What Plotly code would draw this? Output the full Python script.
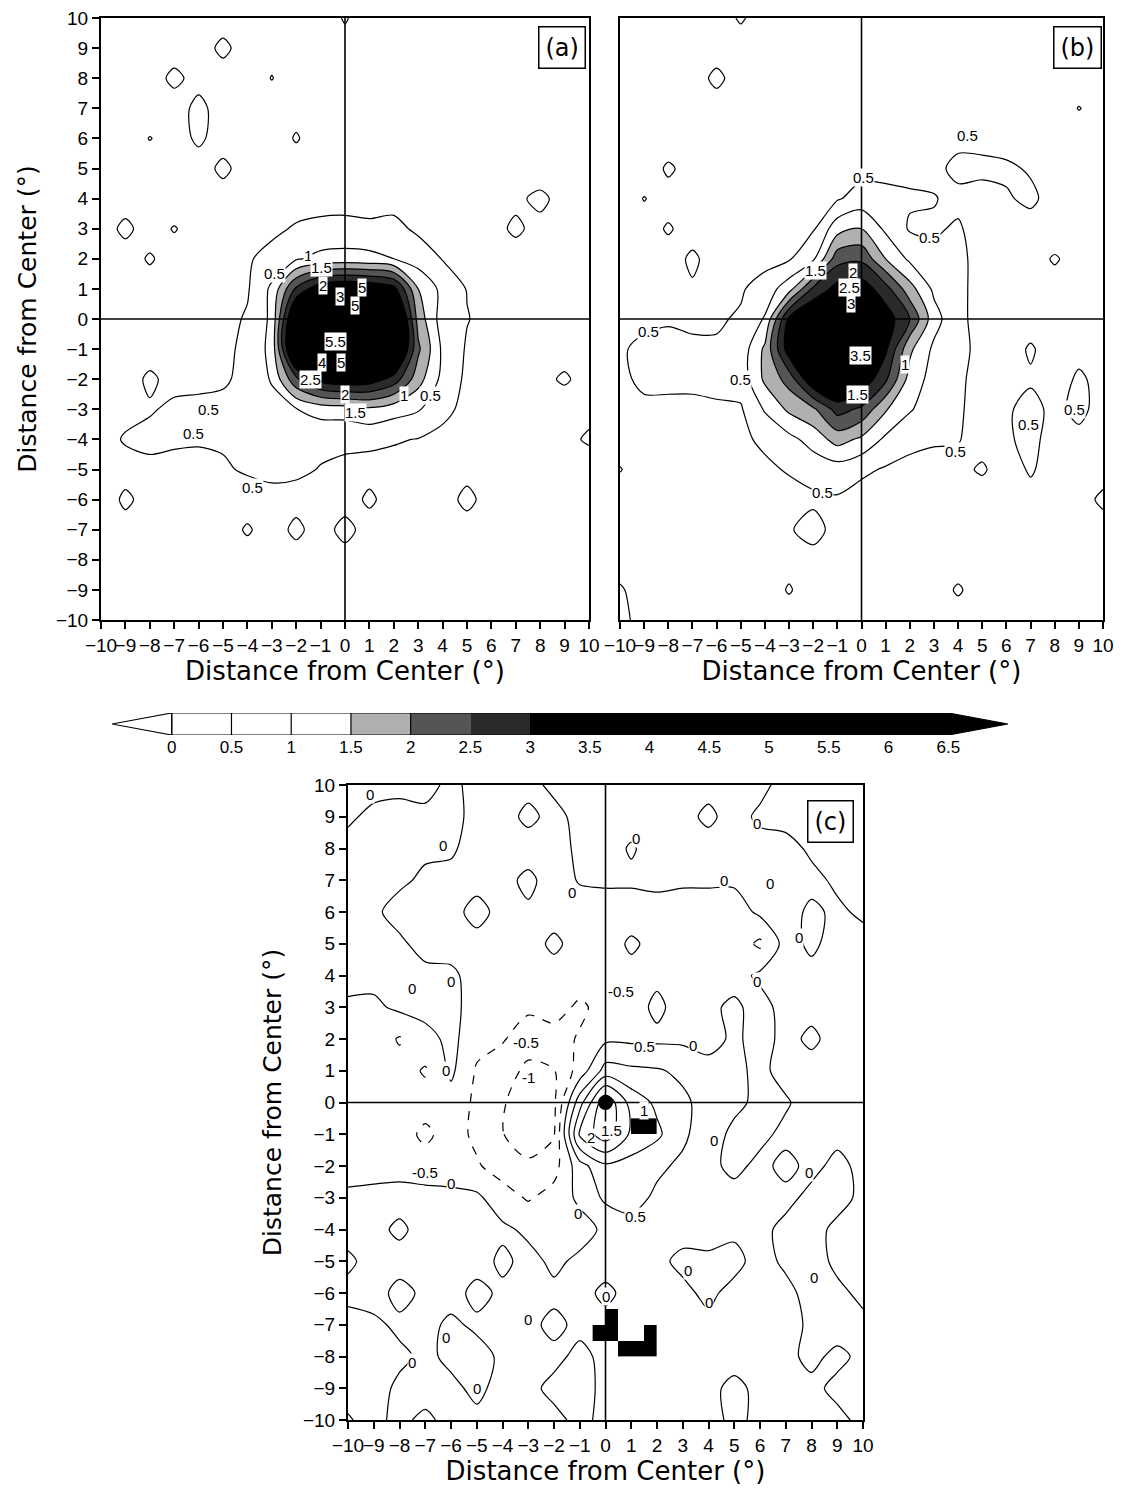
import plotly.graph_objects as go

W, H = 1125, 1490

# 1-degree grid; rows below are listed from north (y=10) to south (y=-10)
GRID_X = list(range(-10, 11))
GRID_Y = list(range(10, -11, -1))

A_ROWS = [
    [0.2, 0.1, 0.2, 0.3, 0.2, 0.3, 0.2, 0.2, 0.1, 0.2, 0.55, 0.2, 0.1, 0.2, 0.2, 0.1, 0.2, 0.2, 0.1, 0.2, 0.2],
    [0.1, 0.2, 0.2, 0.3, 0.3, 0.6, 0.3, 0.3, 0.2, 0.2, 0.3, 0.2, 0.2, 0.1, 0.2, 0.2, 0.1, 0.2, 0.2, 0.1, 0.2],
    [0.2, 0.2, 0.3, 0.6, 0.35, 0.3, 0.2, 0.52, 0.2, 0.1, 0.2, 0.2, 0.1, 0.2, 0.2, 0.1, 0.2, 0.2, 0.2, 0.1, 0.1],
    [0.2, 0.2, 0.2, 0.3, 0.62, 0.3, 0.2, 0.2, 0.3, 0.2, 0.2, 0.1, 0.2, 0.2, 0.1, 0.2, 0.2, 0.1, 0.2, 0.2, 0.1],
    [0.1, 0.2, 0.52, 0.3, 0.58, 0.3, 0.2, 0.2, 0.55, 0.2, 0.2, 0.2, 0.1, 0.2, 0.2, 0.1, 0.2, 0.2, 0.1, 0.2, 0.2],
    [0.2, 0.2, 0.2, 0.3, 0.3, 0.6, 0.3, 0.2, 0.2, 0.3, 0.3, 0.2, 0.2, 0.2, 0.3, 0.2, 0.2, 0.3, 0.2, 0.2, 0.1],
    [0.2, 0.3, 0.2, 0.2, 0.3, 0.3, 0.3, 0.3, 0.3, 0.35, 0.35, 0.3, 0.35, 0.3, 0.3, 0.3, 0.3, 0.4, 0.62, 0.3, 0.2],
    [0.3, 0.6, 0.3, 0.53, 0.3, 0.3, 0.35, 0.4, 0.55, 0.6, 0.62, 0.6, 0.62, 0.42, 0.35, 0.3, 0.35, 0.58, 0.35, 0.3, 0.2],
    [0.2, 0.3, 0.55, 0.3, 0.3, 0.35, 0.45, 0.65, 0.95, 1.15, 1.2, 1.15, 1.0, 0.75, 0.48, 0.35, 0.3, 0.3, 0.3, 0.2, 0.2],
    [0.2, 0.2, 0.3, 0.3, 0.3, 0.35, 0.45, 1.1, 2.6, 3.4, 3.6, 3.5, 3.2, 1.5, 0.85, 0.48, 0.35, 0.3, 0.3, 0.2, 0.2],
    [0.2, 0.3, 0.2, 0.3, 0.3, 0.35, 0.55, 1.1, 4.0, 5.0, 5.2, 5.0, 4.4, 1.8, 0.75, 0.52, 0.35, 0.3, 0.2, 0.3, 0.2],
    [0.2, 0.3, 0.3, 0.3, 0.35, 0.4, 0.6, 1.15, 4.2, 5.6, 5.8, 5.3, 4.2, 2.1, 0.9, 0.45, 0.3, 0.3, 0.3, 0.35, 0.3],
    [0.2, 0.3, 0.58, 0.35, 0.4, 0.45, 0.6, 1.05, 2.4, 3.2, 3.4, 3.3, 2.8, 1.7, 0.85, 0.4, 0.3, 0.3, 0.4, 0.55, 0.35],
    [0.3, 0.35, 0.45, 0.6, 0.6, 0.6, 0.65, 0.8, 0.98, 1.2, 1.25, 1.4, 1.2, 1.05, 0.6, 0.4, 0.3, 0.3, 0.3, 0.3, 0.4],
    [0.3, 0.55, 0.65, 0.6, 0.55, 0.55, 0.6, 0.65, 0.6, 0.6, 0.55, 0.6, 0.55, 0.48, 0.4, 0.3, 0.3, 0.3, 0.3, 0.4, 0.55],
    [0.2, 0.3, 0.35, 0.3, 0.35, 0.45, 0.55, 0.62, 0.58, 0.48, 0.45, 0.35, 0.3, 0.3, 0.3, 0.35, 0.3, 0.3, 0.3, 0.3, 0.3],
    [0.2, 0.6, 0.3, 0.3, 0.3, 0.3, 0.3, 0.35, 0.35, 0.3, 0.3, 0.58, 0.3, 0.2, 0.3, 0.62, 0.3, 0.2, 0.3, 0.2, 0.2],
    [0.2, 0.3, 0.2, 0.3, 0.2, 0.3, 0.55, 0.3, 0.6, 0.3, 0.65, 0.3, 0.3, 0.2, 0.2, 0.3, 0.2, 0.2, 0.3, 0.2, 0.2],
    [0.2, 0.2, 0.3, 0.2, 0.2, 0.2, 0.3, 0.2, 0.3, 0.2, 0.3, 0.2, 0.2, 0.3, 0.2, 0.2, 0.3, 0.2, 0.2, 0.3, 0.2],
    [0.1, 0.2, 0.2, 0.3, 0.2, 0.2, 0.2, 0.3, 0.2, 0.2, 0.2, 0.3, 0.2, 0.2, 0.2, 0.3, 0.2, 0.2, 0.2, 0.2, 0.1],
    [0.2, 0.1, 0.2, 0.2, 0.3, 0.2, 0.2, 0.2, 0.1, 0.2, 0.2, 0.2, 0.3, 0.2, 0.2, 0.2, 0.1, 0.2, 0.2, 0.3, 0.2],
]

B_ROWS = [
    [0.2, 0.2, 0.1, 0.2, 0.3, 0.55, 0.3, 0.2, 0.2, 0.2, 0.2, 0.3, 0.2, 0.2, 0.1, 0.2, 0.2, 0.2, 0.1, 0.2, 0.2],
    [0.2, 0.1, 0.2, 0.2, 0.3, 0.3, 0.2, 0.2, 0.1, 0.2, 0.3, 0.2, 0.2, 0.1, 0.2, 0.2, 0.1, 0.2, 0.2, 0.2, 0.1],
    [0.1, 0.2, 0.2, 0.3, 0.6, 0.3, 0.2, 0.2, 0.2, 0.1, 0.2, 0.2, 0.1, 0.2, 0.2, 0.1, 0.2, 0.2, 0.1, 0.2, 0.2],
    [0.2, 0.2, 0.2, 0.3, 0.3, 0.2, 0.2, 0.1, 0.2, 0.2, 0.2, 0.1, 0.2, 0.2, 0.2, 0.2, 0.2, 0.1, 0.2, 0.52, 0.3],
    [0.2, 0.1, 0.2, 0.2, 0.2, 0.2, 0.1, 0.2, 0.2, 0.2, 0.2, 0.2, 0.2, 0.3, 0.4, 0.35, 0.3, 0.2, 0.2, 0.2, 0.2],
    [0.2, 0.2, 0.58, 0.3, 0.2, 0.2, 0.2, 0.2, 0.2, 0.3, 0.35, 0.4, 0.4, 0.4, 0.6, 0.62, 0.58, 0.45, 0.2, 0.2, 0.2],
    [0.2, 0.52, 0.3, 0.2, 0.2, 0.2, 0.25, 0.3, 0.35, 0.45, 0.7, 0.6, 0.55, 0.52, 0.4, 0.3, 0.45, 0.6, 0.3, 0.2, 0.2],
    [0.2, 0.3, 0.55, 0.3, 0.3, 0.3, 0.35, 0.4, 0.45, 1.3, 1.5, 0.9, 0.45, 0.45, 0.55, 0.3, 0.3, 0.3, 0.2, 0.2, 0.2],
    [0.2, 0.3, 0.3, 0.58, 0.3, 0.3, 0.35, 0.45, 0.9, 2.3, 2.4, 1.5, 0.9, 0.6, 0.6, 0.35, 0.3, 0.3, 0.55, 0.3, 0.2],
    [0.2, 0.3, 0.35, 0.45, 0.4, 0.45, 0.7, 1.3, 2.6, 3.2, 3.3, 2.7, 1.7, 0.9, 0.6, 0.35, 0.3, 0.3, 0.3, 0.2, 0.2],
    [0.3, 0.4, 0.45, 0.4, 0.45, 0.55, 1.05, 3.1, 3.7, 3.9, 3.7, 3.3, 2.5, 1.2, 0.6, 0.35, 0.3, 0.3, 0.3, 0.25, 0.2],
    [0.45, 0.6, 0.65, 0.6, 0.55, 0.7, 1.6, 3.3, 3.9, 4.1, 3.6, 3.1, 1.6, 0.9, 0.6, 0.4, 0.3, 0.55, 0.3, 0.4, 0.3],
    [0.4, 0.6, 0.55, 0.6, 0.6, 0.7, 1.6, 2.2, 3.5, 3.9, 3.4, 2.6, 1.3, 0.8, 0.55, 0.4, 0.35, 0.45, 0.35, 0.55, 0.4],
    [0.3, 0.4, 0.45, 0.4, 0.45, 0.45, 1.05, 1.6, 1.9, 2.7, 2.4, 1.55, 1.05, 0.7, 0.55, 0.35, 0.45, 0.62, 0.4, 0.6, 0.35],
    [0.3, 0.3, 0.3, 0.3, 0.3, 0.4, 0.6, 0.85, 1.2, 1.7, 1.4, 0.9, 0.6, 0.55, 0.52, 0.35, 0.45, 0.6, 0.35, 0.4, 0.3],
    [0.52, 0.3, 0.2, 0.3, 0.3, 0.3, 0.4, 0.55, 0.7, 0.75, 0.6, 0.45, 0.4, 0.35, 0.4, 0.55, 0.3, 0.55, 0.3, 0.3, 0.3],
    [0.3, 0.2, 0.3, 0.2, 0.3, 0.3, 0.3, 0.3, 0.4, 0.45, 0.3, 0.3, 0.3, 0.2, 0.3, 0.3, 0.3, 0.35, 0.2, 0.3, 0.6],
    [0.2, 0.3, 0.2, 0.3, 0.2, 0.3, 0.3, 0.45, 0.7, 0.3, 0.2, 0.3, 0.2, 0.3, 0.2, 0.3, 0.2, 0.3, 0.2, 0.3, 0.3],
    [0.3, 0.2, 0.3, 0.2, 0.3, 0.2, 0.3, 0.3, 0.3, 0.2, 0.3, 0.2, 0.3, 0.2, 0.3, 0.2, 0.2, 0.3, 0.2, 0.2, 0.2],
    [0.55, 0.3, 0.2, 0.3, 0.2, 0.3, 0.2, 0.55, 0.2, 0.3, 0.2, 0.3, 0.2, 0.3, 0.55, 0.3, 0.2, 0.2, 0.3, 0.2, 0.2],
    [0.65, 0.3, 0.2, 0.3, 0.2, 0.2, 0.3, 0.2, 0.3, 0.2, 0.3, 0.2, 0.3, 0.2, 0.3, 0.2, 0.3, 0.2, 0.3, 0.2, 0.3],
]

C_ROWS = [
    [-0.2, -0.2, -0.15, -0.2, 0.15, -0.2, -0.3, -0.2, 0.15, 0.2, 0.2, 0.25, 0.2, 0.2, 0.15, 0.2, 0.15, -0.2, -0.2, -0.15, -0.2],
    [-0.1, 0.15, 0.2, 0.15, 0.2, -0.2, -0.25, 0.15, -0.2, 0.2, 0.25, 0.2, 0.2, 0.15, -0.1, 0.2, -0.1, -0.2, -0.2, -0.25, -0.2],
    [0.2, 0.3, 0.2, 0.1, 0.1, -0.3, -0.2, -0.3, -0.2, 0.1, 0.2, -0.05, 0.2, 0.2, 0.2, 0.2, 0.2, 0.2, -0.1, -0.2, -0.2],
    [0.2, 0.2, 0.1, -0.1, -0.2, -0.2, -0.2, 0.15, -0.3, 0.05, 0.1, 0.1, 0.15, 0.1, 0.1, 0.08, 0.05, 0.2, 0.15, -0.1, -0.2],
    [0.2, 0.1, -0.2, -0.15, -0.2, 0.2, -0.2, -0.1, -0.3, -0.3, -0.3, -0.3, -0.25, -0.3, -0.3, -0.25, 0.1, 0.2, -0.1, 0.1, -0.1],
    [0.2, 0.15, 0.1, -0.2, -0.2, -0.2, -0.3, -0.3, 0.15, -0.3, -0.3, 0.1, -0.2, -0.2, -0.1, -0.2, -0.6, 0.2, -0.1, 0.2, 0.2],
    [0.2, 0.15, 0.1, 0.15, 0.1, -0.2, -0.3, -0.2, -0.3, -0.2, -0.3, -0.2, -0.1, -0.1, -0.2, -0.2, 0.1, 0.2, 0.15, 0.2, 0.1],
    [-0.1, -0.1, 0.1, 0.2, 0.1, -0.15, -0.2, -0.4, -0.3, -0.6, -0.3, -0.2, 0.1, -0.2, -0.1, 0.1, -0.2, 0.2, 0.15, 0.2, 0.2],
    [-0.1, -0.2, -0.55, -0.2, 0.15, -0.35, -0.45, -0.8, -0.7, -0.45, -0.1, -0.1, -0.1, -0.1, -0.2, 0.1, -0.2, 0.15, -0.1, 0.2, 0.15],
    [-0.2, -0.2, -0.3, -0.55, 0.1, -0.55, -0.8, -1.1, -1.02, -0.3, 0.7, 0.6, 0.55, 0.4, 0.2, 0.1, -0.1, 0.15, 0.2, 0.1, 0.2],
    [-0.2, -0.2, -0.3, -0.3, -0.2, -0.6, -0.95, -1.3, -1.1, 0.8, 2.4, 1.3, 0.9, 0.6, 0.3, 0.1, -0.1, -0.05, 0.2, 0.15, 0.1],
    [-0.2, -0.2, -0.3, -0.6, -0.3, -0.6, -0.98, -1.3, -1.05, 1.6, 2.3, 1.4, 1.1, 0.6, 0.2, -0.1, -0.1, 0.1, 0.2, 0.1, 0.2],
    [-0.2, -0.2, -0.2, -0.3, -0.3, -0.45, -0.7, -0.9, -0.7, 0.3, 0.9, 0.8, 0.6, 0.4, 0.1, -0.1, 0.1, -0.1, 0.1, -0.1, 0.1],
    [0.1, 0.15, 0.2, 0.2, 0.15, 0.1, -0.3, -0.55, -0.3, 0.1, 0.6, 0.7, 0.4, 0.3, 0.1, 0.15, 0.2, 0.1, -0.1, -0.15, 0.1],
    [0.2, 0.15, -0.1, 0.2, 0.2, 0.15, 0.1, -0.1, -0.1, -0.2, 0.1, 0.3, 0.2, 0.15, 0.2, 0.1, 0.1, -0.1, -0.15, 0.1, 0.2],
    [-0.1, 0.2, 0.2, 0.2, 0.3, 0.2, -0.1, 0.15, -0.1, 0.1, 0.2, 0.2, 0.1, -0.1, -0.1, -0.15, 0.2, -0.1, -0.2, 0.1, 0.2],
    [0.15, 0.2, -0.15, 0.1, 0.2, -0.15, 0.1, 0.2, 0.1, 0.15, -0.1, 0.15, 0.2, 0.1, -0.1, 0.15, 0.1, 0.15, -0.2, -0.1, 0.1],
    [-0.2, -0.1, 0.1, 0.15, -0.1, 0.1, 0.2, 0.1, -0.1, 0.1, 0.15, 0.2, 0.1, 0.15, 0.1, 0.2, 0.1, 0.2, -0.1, -0.2, -0.1],
    [-0.2, -0.15, -0.1, 0.1, -0.1, -0.2, 0.1, 0.2, 0.1, -0.1, 0.1, 0.2, 0.2, 0.1, 0.1, 0.15, 0.1, 0.1, -0.1, 0.1, -0.1],
    [-0.1, -0.2, 0.1, 0.2, 0.1, -0.1, 0.15, 0.1, -0.1, -0.15, 0.1, 0.1, 0.15, 0.2, 0.1, -0.1, 0.1, 0.2, 0.1, -0.1, -0.15],
    [-0.6, -0.1, 0.1, -0.1, 0.15, 0.1, 0.2, 0.1, 0.1, -0.1, 0.1, 0.1, 0.2, 0.1, 0.15, -0.1, 0.1, 0.2, 0.1, 0.1, -0.1],
]

# shaded contour levels and the colour-bar tick values
FILL_START, FILL_END, FILL_STEP = 0.5, 6.5, 0.5
BAR_TICKS = [0, 0.5, 1, 1.5, 2, 2.5, 3, 3.5, 4, 4.5, 5, 5.5, 6, 6.5]
SHADE_BANDS = [(1.5, "#ffffff"), (2.0, "#b0b0b0"), (2.5, "#555555"), (3.0, "#2a2a2a"), (None, "#000000")]

# panel (c): grid cells (0.5 deg) drawn solid black, and the storm centre
SIG_CELL_X = [1.25, 1.75, 0.25, -0.25, 0.25, 1.75, 0.75, 1.25, 1.75]
SIG_CELL_Y = [-0.75, -0.75, -6.75, -7.25, -7.25, -7.25, -7.75, -7.75, -7.75]
CENTER = (0, 0)

# contour labels: (x, y, text)
A_LABELS = [(-2.9, 1.5, "0.5"), (-1.5, 2.1, "1"), (-0.95, 1.7, "1.5"), (-0.9, 1.1, "2"),
            (-0.2, 0.75, "3"), (0.7, 1.05, "5"), (0.4, 0.45, "5"), (-0.4, -0.75, "5.5"),
            (-0.95, -1.45, "4"), (-0.15, -1.45, "5"), (-1.4, -2.0, "2.5"), (0.0, -2.5, "2"),
            (0.45, -3.1, "1.5"), (2.4, -2.55, "1"), (3.5, -2.55, "0.5"), (-5.6, -3.0, "0.5"),
            (-6.2, -3.8, "0.5"), (-3.8, -5.6, "0.5")]
B_LABELS = [(0.1, 4.7, "0.5"), (4.4, 6.1, "0.5"), (2.8, 2.7, "0.5"), (-1.9, 1.6, "1.5"),
            (-0.35, 1.55, "2"), (-0.5, 1.05, "2.5"), (-0.45, 0.5, "3"), (-8.8, -0.4, "0.5"),
            (-0.05, -1.2, "3.5"), (1.8, -1.5, "1"), (-5.0, -2.0, "0.5"), (-0.15, -2.5, "1.5"),
            (3.9, -4.4, "0.5"), (6.9, -3.5, "0.5"), (8.8, -3.0, "0.5"), (-1.6, -5.75, "0.5")]
C_LABELS = [(-9.15, 9.7, "0"), (-6.3, 8.1, "0"), (1.2, 8.3, "0"), (-1.3, 6.6, "0"),
            (4.6, 7.0, "0"), (6.4, 6.9, "0"), (5.9, 8.8, "0"), (7.5, 5.2, "0"), (5.9, 3.8, "0"),
            (-7.5, 3.6, "0"), (-6.0, 3.8, "0"), (-6.2, 1.0, "0"), (3.4, 1.8, "0"),
            (0.6, 3.5, "-0.5"), (-3.1, 1.9, "-0.5"), (-3.0, 0.8, "-1"), (1.5, 1.75, "0.5"),
            (1.5, -0.25, "1"), (0.25, -0.87, "1.5"), (-0.55, -1.1, "2"), (1.15, -3.6, "0.5"),
            (-7.0, -2.2, "-0.5"), (-6.0, -2.55, "0"), (-1.05, -3.5, "0"), (4.2, -1.2, "0"),
            (7.9, -2.2, "0"), (3.2, -5.3, "0"), (4.0, -6.3, "0"), (8.1, -5.5, "0"),
            (0.0, -6.1, "0"), (-3.0, -6.85, "0"), (-6.2, -7.4, "0"), (-7.5, -8.2, "0"), (-5.0, -9.0, "0")]

AXIS_TITLE = "Distance from Center (°)"


def px_x(p):
    return p / W


def px_y(p):
    return 1 - p / H


def shade_scale():
    lo = FILL_START - FILL_STEP / 2
    hi = FILL_END + FILL_STEP / 2
    scale, prev = [], 0.0
    for upper, color in SHADE_BANDS:
        p_end = 1.0 if upper is None else (upper - lo) / (hi - lo)
        scale.append([prev, color])
        scale.append([p_end, color])
        prev = p_end
    return scale, lo, hi


SCALE, Z_LO, Z_HI = shade_scale()
ys_up = GRID_Y[::-1]

fig = go.Figure()

for rows, ax in ((A_ROWS, ""), (B_ROWS, "2")):
    fig.add_trace(go.Contour(
        x=GRID_X, y=ys_up, z=rows[::-1], xaxis="x" + ax, yaxis="y" + ax,
        contours=dict(coloring="fill", start=FILL_START, end=FILL_END, size=FILL_STEP, showlines=True),
        colorscale=SCALE, showscale=False,
        line=dict(color="black", width=1.2, smoothing=0.85), hoverinfo="skip"))

# panel (c): negative levels dashed, zero and positive solid
fig.add_trace(go.Contour(
    x=GRID_X, y=ys_up, z=C_ROWS[::-1], xaxis="x3", yaxis="y3",
    contours=dict(coloring="none", start=-2.0, end=-0.5, size=0.5),
    line=dict(color="black", width=1.2, dash="dash", smoothing=0.85),
    showscale=False, hoverinfo="skip"))
fig.add_trace(go.Contour(
    x=GRID_X, y=ys_up, z=C_ROWS[::-1], xaxis="x3", yaxis="y3",
    contours=dict(coloring="none", start=0.0, end=3.0, size=0.5),
    line=dict(color="black", width=1.2, smoothing=0.85),
    showscale=False, hoverinfo="skip"))

# significant cells as a sparse 0.5-degree heatmap
cx_sorted = sorted(set(SIG_CELL_X))
cell_xs = [cx_sorted[0] + 0.5 * i for i in range(int(round((cx_sorted[-1] - cx_sorted[0]) / 0.5)) + 1)]
cy_sorted = sorted(set(SIG_CELL_Y))
cell_ys = [cy_sorted[0] + 0.5 * i for i in range(int(round((cy_sorted[-1] - cy_sorted[0]) / 0.5)) + 1)]
cells = set(zip(SIG_CELL_X, SIG_CELL_Y))
cell_z = [[1 if (cx, cy) in cells else None for cx in cell_xs] for cy in cell_ys]
fig.add_trace(go.Heatmap(x=cell_xs, y=cell_ys, z=cell_z, xaxis="x3", yaxis="y3",
                         colorscale=[[0, "black"], [1, "black"]], showscale=False, hoverinfo="skip"))
fig.add_trace(go.Scatter(x=[CENTER[0]], y=[CENTER[1]], mode="markers", xaxis="x3", yaxis="y3",
                         marker=dict(size=15, color="black"), hoverinfo="skip"))

# horizontal colour bar with pointed ends
half = BAR_TICKS[1] - BAR_TICKS[0]
mids = [(BAR_TICKS[i] + BAR_TICKS[i + 1]) / 2 for i in range(len(BAR_TICKS) - 1)]
fig.add_trace(go.Heatmap(x=mids, y=[0], z=[mids], xaxis="x4", yaxis="y4", zmin=Z_LO, zmax=Z_HI,
                         colorscale=SCALE, showscale=False, hoverinfo="skip"))
b0, b1 = BAR_TICKS[0], BAR_TICKS[-1]
fig.add_trace(go.Scatter(x=[b1, b1 + half, b1, b1], y=[0.5, 0, -0.5, 0.5], xaxis="x4", yaxis="y4",
                         mode="lines", fill="toself", fillcolor="black",
                         line=dict(color="black", width=1.2), hoverinfo="skip"))
fig.add_trace(go.Scatter(x=[b0, b0 - half, b0, b1, b1, b0, b0], y=[0.5, 0, -0.5, -0.5, 0.5, 0.5, -0.5],
                         xaxis="x4", yaxis="y4", mode="lines",
                         line=dict(color="black", width=1.2), hoverinfo="skip"))
sep_x, sep_y = [], []
for v in BAR_TICKS:
    if v <= 2:
        sep_x += [v, v, None]
        sep_y += [-0.5, 0.5, None]
fig.add_trace(go.Scatter(x=sep_x, y=sep_y, xaxis="x4", yaxis="y4", mode="lines",
                         line=dict(color="black", width=1.2), hoverinfo="skip"))

tick_font = dict(family="Liberation Sans, Arial, sans-serif", size=19, color="black")


def axis(domain, anchor, labels=True, title=None, standoff=6, tsize=26):
    d = dict(domain=domain, anchor=anchor, range=[-10, 10], dtick=1, tick0=0,
             ticks="outside" if labels else "", ticklen=7, tickwidth=1.5, tickcolor="black",
             showline=True, linewidth=2, linecolor="black", mirror=True,
             showgrid=False, zeroline=False, showticklabels=labels, tickangle=0,
             tickfont=tick_font, fixedrange=True, automargin=False)
    if title:
        d["title"] = dict(text=title, standoff=standoff,
                          font=dict(family="DejaVu Sans, sans-serif", size=tsize, color="black"))
    return d


ya_dom = [px_y(620), px_y(18)]
fig.update_layout(
    width=W, height=H, margin=dict(l=0, r=0, t=0, b=0, autoexpand=False),
    paper_bgcolor="white", plot_bgcolor="white", showlegend=False,
    xaxis=axis([px_x(101), px_x(589)], "y", title=AXIS_TITLE),
    yaxis=axis(ya_dom, "x", title=AXIS_TITLE, standoff=12, tsize=25),
    xaxis2=axis([px_x(620), px_x(1103)], "y2", title=AXIS_TITLE),
    yaxis2=axis(ya_dom, "x2", labels=False),
    xaxis3=axis([px_x(348), px_x(863)], "y3", title=AXIS_TITLE, standoff=4),
    yaxis3=axis([px_y(1420), px_y(785)], "x3", title=AXIS_TITLE, standoff=14, tsize=25),
    xaxis4=dict(domain=[px_x(112), px_x(1008)], anchor="y4", range=[b0 - half, b1 + half],
                tickvals=BAR_TICKS, ticktext=[f"{v:g}" for v in BAR_TICKS], ticks="",
                showline=False, showgrid=False, zeroline=False, fixedrange=True, automargin=False,
                tickfont=dict(family="Liberation Sans, Arial, sans-serif", size=17, color="black")),
    yaxis4=dict(domain=[px_y(735), px_y(713)], anchor="x4", range=[-0.5, 0.5], visible=False,
                fixedrange=True),
)

# centre cross-hair lines in every panel
shapes = []
for ax in ("", "2", "3"):
    shapes.append(dict(type="line", xref="x" + ax, yref="y" + ax, x0=-10, x1=10, y0=0, y1=0,
                       line=dict(color="black", width=1.6), layer="above"))
    shapes.append(dict(type="line", xref="x" + ax, yref="y" + ax, x0=0, x1=0, y0=-10, y1=10,
                       line=dict(color="black", width=1.6), layer="above"))
fig.update_layout(shapes=shapes)

ann = []
label_font = dict(family="Liberation Sans, Arial, sans-serif", size=15, color="black")
for labels, ax in ((A_LABELS, ""), (B_LABELS, "2"), (C_LABELS, "3")):
    for x, y, t in labels:
        ann.append(dict(x=x, y=y, xref="x" + ax, yref="y" + ax, text=t, showarrow=False,
                        font=label_font, bgcolor="white", borderpad=0))
for cx, cy, t in ((562, 48, "(a)"), (1077, 48, "(b)"), (830, 822, "(c)")):
    ann.append(dict(x=px_x(cx), y=px_y(cy), xref="paper", yref="paper", text=t, showarrow=False,
                    font=dict(family="DejaVu Sans, sans-serif", size=24, color="black"),
                    bgcolor="white", bordercolor="black", borderwidth=1.5, borderpad=6,
                    xanchor="center", yanchor="middle"))
fig.update_layout(annotations=ann)

fig.write_html("out.html",
               post_script="document.body.style.margin='0';document.body.style.padding='0';"
                           "document.body.style.overflow='hidden';")
